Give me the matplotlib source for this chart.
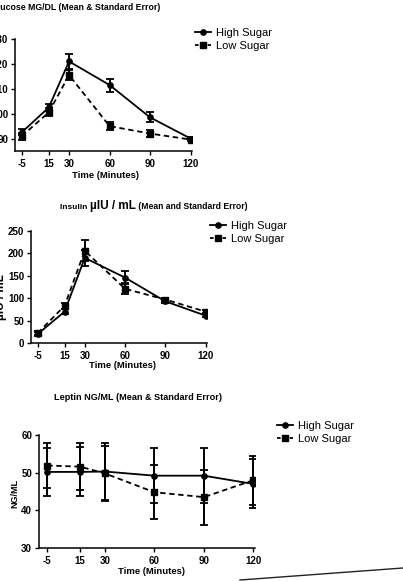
import matplotlib
matplotlib.use("Agg")
import matplotlib.pyplot as plt
from matplotlib.lines import Line2D

plt.rcParams['font.family'] = ['Liberation Sans', 'DejaVu Sans']

# ---------------- data ----------------
time_min = [-5, 15, 30, 60, 90, 120]
xtick_labels = ["-5", "15", "30", "60", "90", "120"]
series_names = ["High Sugar", "Low Sugar"]

glucose_high = [92.5, 102.5, 121.0, 111.5, 98.5, 90.0]
glucose_high_se = [1.2, 1.5, 3.0, 2.6, 2.0, 0.6]
glucose_low = [91.0, 100.5, 115.5, 95.0, 92.0, 89.6]
glucose_low_se = [1.4, 1.6, 2.0, 1.6, 1.5, 0.7]

insulin_high = [20, 70, 190, 146, 93, 61]
insulin_high_se = [5, 6, 18, 14, 4, 4]
insulin_low = [22, 83, 206, 121, 97, 70]
insulin_low_se = [5, 7, 23, 12, 4, 4]

leptin_high = [50.2, 50.2, 50.3, 49.2, 49.2, 47.0]
leptin_high_se = [6.3, 6.5, 7.5, 7.3, 7.3, 6.5]
leptin_low = [51.9, 51.6, 49.8, 44.8, 43.5, 48.0]
leptin_low_se = [6.0, 6.3, 7.2, 7.2, 7.3, 6.5]

W, H = 403, 581
fig = plt.figure(figsize=(W / 100, H / 100), dpi=100)
fig.patch.set_facecolor("white")

DASH = (0, (3, 2))


def fx(x):
    return x / W


def fy(y):
    return 1 - y / H


def panel(left, top, right, bottom, high, hse, low, lse, ylim, yticks,
          leg_x, leg_y):
    ax = fig.add_axes([fx(left), fy(bottom), fx(right - left), (bottom - top) / H])
    ax.errorbar(time_min, high, yerr=hse, color="black", lw=1.3, ls="-",
                marker="o", ms=3.8, capsize=2.6, elinewidth=1.4, capthick=1.3)
    ax.errorbar(time_min, low, yerr=lse, color="black", lw=1.3, ls=DASH,
                marker="s", ms=3.8, capsize=2.6, elinewidth=1.4, capthick=1.3)
    ax.set_xlim(-10, 121)
    ax.set_ylim(*ylim)
    ax.set_yticks(yticks)
    ax.set_xticks(time_min)
    ax.set_xticklabels(xtick_labels)
    for s in ["top", "right"]:
        ax.spines[s].set_visible(False)
    for s in ["left", "bottom"]:
        ax.spines[s].set_linewidth(1.1)
    ax.tick_params(axis="both", direction="out", length=3, width=1.0,
                   labelsize=7, pad=2)
    ax.tick_params(axis="x", pad=3)
    for lab in ax.get_xticklabels() + ax.get_yticklabels():
        lab.set_fontweight("bold")
    ax.patch.set_alpha(0)
    handles = [
        Line2D([], [], color="black", lw=1.3, ls="-", marker="o", ms=3.8),
        Line2D([], [], color="black", lw=1.3, ls=(0, (2, 1.5)), marker="s", ms=3.8),
    ]
    fig.legend(handles, series_names, loc="upper left",
               bbox_to_anchor=(fx(leg_x), fy(leg_y)), frameon=False,
               fontsize=8, handlelength=1.4, handletextpad=0.5,
               labelspacing=0.3, borderaxespad=0, borderpad=0)
    return ax


# Glucose
ax1 = panel(15, 39, 192, 151, glucose_high, glucose_high_se, glucose_low,
            glucose_low_se, (85, 130), [90, 100, 110, 120, 130], 195, 28)
fig.text(fx(76), fy(8), "Glucose MG/DL (Mean & Standard Error)", ha="center",
         va="center", fontsize=6.3, fontweight="bold")
fig.text(fx(106), fy(175), "Time (Minutes)", ha="center", va="center",
         fontsize=6.8, fontweight="bold")

# Insulin
ax2 = panel(31, 231, 207, 343, insulin_high, insulin_high_se, insulin_low,
            insulin_low_se, (0, 250), [0, 50, 100, 150, 200, 250], 210, 221)
t1 = fig.text(fx(60), fy(209), "Insulin ", ha="left", va="baseline",
              fontsize=6.0, fontweight="bold")
t2 = fig.text(0, 0, "\u00b5IU / mL", ha="left", va="baseline",
              fontsize=8.5, fontweight="bold")
t3 = fig.text(0, 0, " (Mean and Standard Error)", ha="left", va="baseline",
              fontsize=6.2, fontweight="bold")
fig.canvas.draw()
r = fig.canvas.get_renderer()
bb1 = t1.get_window_extent(r)
t2.set_position((bb1.x1 / fig.bbox.width, fy(209)))
bb2 = t2.get_window_extent(r)
t3.set_position((bb2.x1 / fig.bbox.width, fy(209)))
fig.text(fx(1), fy(297), "\u00b5IU / mL", rotation=90, ha="center",
         va="center", fontsize=8.5, fontweight="bold")
fig.text(fx(122), fy(366), "Time (Minutes)", ha="center", va="center",
         fontsize=6.8, fontweight="bold")

# Leptin
ax3 = panel(39, 435, 255, 548, leptin_high, leptin_high_se, leptin_low,
            leptin_low_se, (30, 60), [30, 40, 50, 60], 277, 421)
fig.text(fx(138), fy(397), "Leptin NG/ML (Mean & Standard Error)", ha="center",
         va="center", fontsize=6.6, fontweight="bold")
fig.text(fx(15), fy(493), "NG/ML", rotation=90, ha="center", va="center",
         fontsize=6.5, fontweight="bold")
fig.text(fx(152), fy(571), "Time (Minutes)", ha="center", va="center",
         fontsize=6.8, fontweight="bold")

# page edge line from the scan
fig.add_artist(Line2D([fx(240), fx(403)], [fy(580), fy(568)], color="#222222",
                      lw=1.0))

fig.savefig("out.png", dpi=100)
